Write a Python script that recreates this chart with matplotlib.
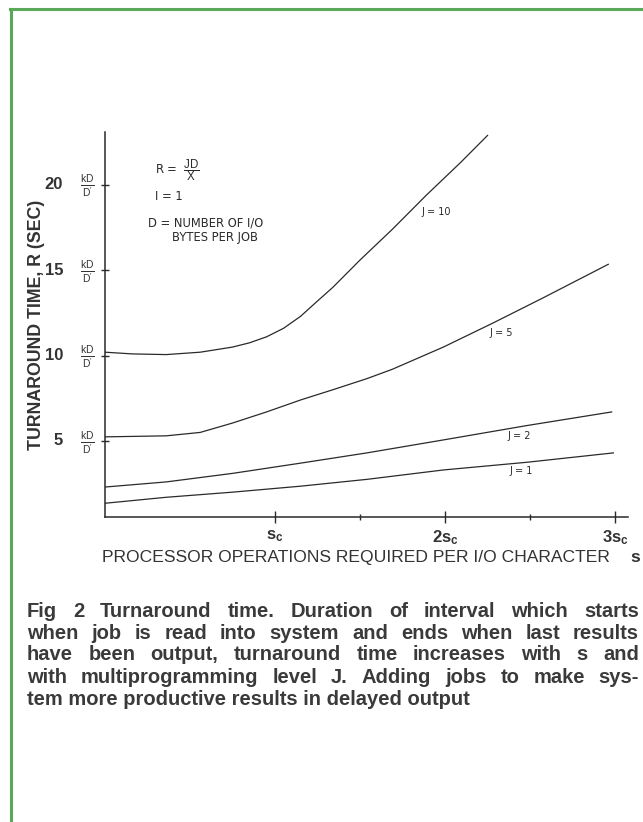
import numpy as np
import matplotlib.pyplot as plt
from matplotlib.lines import Line2D

plt.rcParams['font.family'] = ['Liberation Sans', 'DejaVu Sans']
plt.rcParams['mathtext.fontset'] = 'custom'
plt.rcParams['mathtext.rm'] = 'Liberation Sans'
plt.rcParams['mathtext.bf'] = 'Liberation Sans:bold'
plt.rcParams['mathtext.it'] = 'Liberation Sans:italic'

# curves (x in units of s_c, y in units of kD/D')
x_j10 = [0.0, 0.16, 0.36, 0.56, 0.75, 0.85, 0.95, 1.05, 1.15, 1.25, 1.34, 1.50, 1.69, 1.89, 2.09, 2.25]
y_j10 = [10.2, 10.1, 10.06, 10.2, 10.5, 10.75, 11.1, 11.6, 12.3, 13.2, 14.0, 15.6, 17.4, 19.4, 21.3, 22.9]
x_j5 = [0.0, 0.36, 0.56, 0.75, 0.95, 1.15, 1.34, 1.54, 1.69, 1.99, 2.28, 2.58, 2.96]
y_j5 = [5.24, 5.3, 5.5, 6.05, 6.7, 7.4, 8.0, 8.65, 9.2, 10.5, 11.9, 13.4, 15.35]
x_j2 = [0.0, 0.36, 0.75, 1.15, 1.54, 1.99, 2.48, 2.98]
y_j2 = [2.3, 2.6, 3.1, 3.7, 4.3, 5.06, 5.9, 6.7]
x_j1 = [0.0, 0.36, 0.75, 1.15, 1.54, 1.99, 2.48, 2.99]
y_j1 = [1.35, 1.7, 2.0, 2.35, 2.75, 3.3, 3.75, 4.3]

curve_labels = ['J = 10', 'J = 5', 'J = 2', 'J = 1']
label_pos = [(1.86, 18.4), (2.26, 11.3), (2.37, 5.3), (2.38, 3.25)]

ytick_vals = [5, 10, 15, 20]
xtick_vals = [1, 2, 3]
xtick_labels = [r'$\mathbf{s_c}$', r'$\mathbf{2s_c}$', r'$\mathbf{3s_c}$']

caption = ['Fig 2  Turnaround time. Duration of interval which starts',
           'when job is read into system and ends when last results',
           'have been output, turnaround time increases with s and',
           'with multiprogramming level J. Adding jobs to make sys-',
           'tem more productive results in delayed output']

W, H = 643, 822
fig = plt.figure(figsize=(W / 100, H / 100), dpi=100)
ax = fig.add_axes([105 / W, (H - 517) / H, 523 / W, 385 / H])

ink = '#2a2a2a'
for xs, ys in [(x_j10, y_j10), (x_j5, y_j5), (x_j2, y_j2), (x_j1, y_j1)]:
    ax.plot(xs, ys, color=ink, lw=0.9)

for lab, (lx, ly) in zip(curve_labels, label_pos):
    ax.text(lx, ly, lab, fontsize=7, family='DejaVu Sans', color=ink, va='center')

ax.set_xlim(0, 3.076)
ax.set_ylim(0.545, 23.1)
ax.spines['top'].set_visible(False)
ax.spines['right'].set_visible(False)
for s in ['left', 'bottom']:
    ax.spines[s].set_color(ink)
    ax.spines[s].set_linewidth(1.1)

ax.set_yticks(ytick_vals)
ax.set_yticklabels([])
ax.tick_params(axis='y', direction='inout', length=6, width=1, color=ink)
ax.set_xticks(xtick_vals)
ax.set_xticklabels(xtick_labels, fontsize=12, color='#333333')
ax.set_xticks([1.5, 2.5], minor=True)
ax.tick_params(axis='x', which='major', direction='inout', length=8, width=1, color=ink, pad=4)
ax.tick_params(axis='x', which='minor', direction='inout', length=4, width=1, color=ink)

# y tick labels: number plus kD/D'
ytr = ax.get_yaxis_transform()
for v in ytick_vals:
    ax.text(-0.080, v, str(v), transform=ytr, ha='right', va='center',
            fontsize=12, fontweight='bold', color='#333333')
    ax.text(-0.033, v - 0.1, r"$\frac{\mathrm{kD}}{\mathrm{D'}}$", transform=ytr,
            ha='center', va='center', fontsize=10.5, color='#333333')

# formula notes
note = dict(family='DejaVu Sans', fontsize=8.3, color=ink)
fig.text(155 / W, 1 - 170 / H, r"R =  $\dfrac{\mathrm{JD}}{\mathrm{X}}$", va='center',
         family='DejaVu Sans', fontsize=8.3, color=ink)
fig.text(155 / W, 1 - 197 / H, 'I = 1', va='center', **note)
fig.text(148 / W, 1 - 223 / H, 'D = NUMBER OF I/O', va='center', **note)
fig.text(172 / W, 1 - 238 / H, 'BYTES PER JOB', va='center', **note)

fig.text(37 / W, 1 - 325 / H, 'TURNAROUND TIME, R (SEC)', rotation=90,
         ha='center', va='center', fontsize=12.8, fontweight='bold', color='#333333')
fig.text(102 / W, 1 - 562 / H, 'PROCESSOR OPERATIONS REQUIRED PER I/O CHARACTER',
         ha='left', va='baseline', fontsize=12.6, color='#333333')
fig.text(630 / W, 1 - 562 / H, 's', ha='left', va='baseline', fontsize=12.6,
         fontweight='bold', color='#333333')

# justified caption
renderer = fig.canvas.get_renderer()
x0, x1 = 27, 639
cap_y = [611, 633, 655, 677, 699]
cap_style = dict(fontsize=14.5, fontweight='bold', color='#3a3a3a', va='center')
for i, line in enumerate(caption):
    yy = 1 - cap_y[i] / H
    if i == len(caption) - 1:
        fig.text(x0 / W, yy, line, **cap_style)
        continue
    words = line.split()
    ts = [fig.text(0, yy, w, **cap_style) for w in words]
    widths = [t.get_window_extent(renderer).width for t in ts]
    gap = (x1 - x0 - sum(widths)) / (len(words) - 1)
    pos = x0
    for t, w in zip(ts, widths):
        t.set_x(pos / W)
        pos += w + gap

# green frame
green = '#5aa85a'
fig.add_artist(Line2D([11 / W, 11 / W], [0, 1 - 9 / H], color=green, lw=2.2))
fig.add_artist(Line2D([10 / W, 1], [1 - 9.5 / H, 1 - 9.5 / H], color=green, lw=2.2))

fig.savefig('out.png', dpi=100, facecolor='white')
